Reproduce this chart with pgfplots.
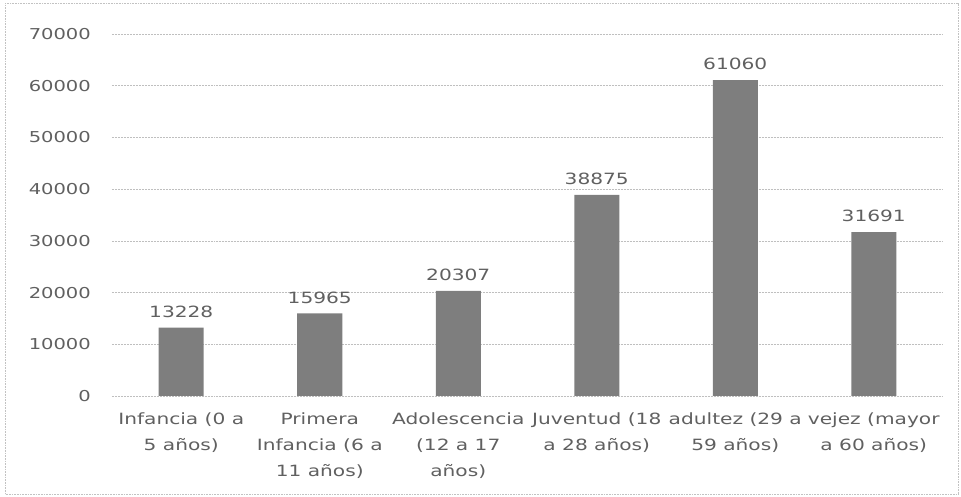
\documentclass[border=0pt]{standalone}
\usepackage{pgfplots}
\pgfplotsset{compat=1.18}
\usepackage{fontspec}
\setmainfont{DejaVu Sans}[FakeStretch=1.3]
\definecolor{txt}{HTML}{606060}
\definecolor{barc}{HTML}{7E7E7E}
\definecolor{grid}{HTML}{A8A8A8}
\begin{document}
\begin{tikzpicture}[x=1pt,y=1pt]
\useasboundingbox (-112,-101) rectangle (849,396);
\draw[grid!70, line width=0.6pt, dash pattern=on 1pt off 0.6pt] (-107,-98) rectangle (846,393);
\begin{axis}[
  at={(0,0)}, anchor=south west,
  scale only axis, width=831pt, height=362pt,
  xmin=-0.5, xmax=5.5, ymin=0, ymax=70000,
  ytick={0,10000,...,70000},
  xtick={0,1,2,3,4,5},
  xticklabels={{Infancia (0 a\\5 años)},{Primera\\Infancia (6 a\\11 años)},{Adolescencia\\(12 a 17\\años)},{Juventud (18\\a 28 años)},{adultez (29 a\\59 años)},{vejez (mayor\\a 60 años)}},
  axis line style={draw=none},
  major tick length=0pt,
  xmajorgrids=false,
  ymajorgrids=true,
  grid style={grid, line width=0.6pt, dash pattern=on 1pt off 0.5pt},
  /pgf/number format/assume math mode=true,
  /pgf/number format/1000 sep={},
  yticklabel style={font=\fontsize{15}{18}\selectfont, text=txt, anchor=east, inner sep=0pt, xshift=-21pt},
  xticklabel style={font=\fontsize{15.5}{26}\selectfont, text=txt, align=center, anchor=north, inner sep=0pt, yshift=-17pt},
  scaled y ticks=false,
  nodes near coords,
  nodes near coords style={font=\fontsize{15.5}{18}\selectfont, text=txt, anchor=south, inner sep=0pt, yshift=10pt},
]
\addplot[ybar, bar width=45pt, fill=barc, draw=none] coordinates {
(0,13228) (1,15965) (2,20307) (3,38875) (4,61060) (5,31691)};
\end{axis}
\end{tikzpicture}
\end{document}
